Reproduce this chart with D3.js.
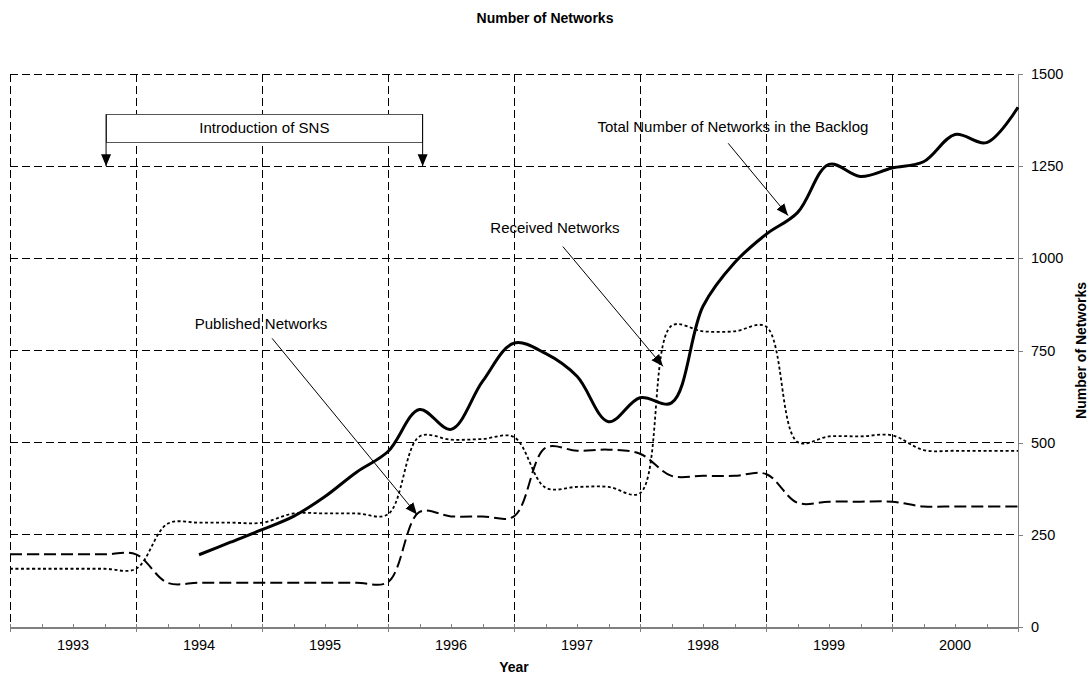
<!DOCTYPE html>
<html>
<head>
<meta charset="utf-8">
<script src="https://cdn.jsdelivr.net/npm/d3@7"></script>
<style>
	body { margin: 0; background: #fff; }
	svg { font-family: "Liberation Sans", Arial, sans-serif; }
	.grid line { stroke: #000; stroke-width: 1; stroke-dasharray: 8, 4; shape-rendering: crispEdges; }
	.axis path, .axis line { stroke: #808080; shape-rendering: crispEdges; }
	.axis text { font-size: 14.5px; fill: #000; }
	.note { font-size: 15px; fill: #000; }
	.title { font-size: 14px; font-weight: bold; }
</style>
</head>
<body>
<svg width="1090" height="675"></svg>
<script>
// quarterly categories, 1993 Q1 .. 2001 Q1
const quarters = [
	"1993 Q1", "1993 Q2", "1993 Q3", "1993 Q4",
	"1994 Q1", "1994 Q2", "1994 Q3", "1994 Q4",
	"1995 Q1", "1995 Q2", "1995 Q3", "1995 Q4",
	"1996 Q1", "1996 Q2", "1996 Q3", "1996 Q4",
	"1997 Q1", "1997 Q2", "1997 Q3", "1997 Q4",
	"1998 Q1", "1998 Q2", "1998 Q3", "1998 Q4",
	"1999 Q1", "1999 Q2", "1999 Q3", "1999 Q4",
	"2000 Q1", "2000 Q2", "2000 Q3", "2000 Q4",
	"2001 Q1"
]
const years = ["1993", "1994", "1995", "1996", "1997", "1998", "1999", "2000"]

const published = [197, 197, 197, 197, 197, 120, 120, 120, 120, 120, 120, 120, 122, 312, 300, 300, 300,
	486, 478, 481, 470, 410, 410, 410, 415, 337, 340, 340, 340, 327, 327, 327, 327]
const received = [158, 158, 158, 158, 158, 280, 283, 283, 283, 308, 308, 308, 306, 517, 508, 510, 515,
	378, 380, 380, 363, 817, 802, 802, 815, 502, 517, 517, 520, 480, 478, 478, 478]
const backlog = [null, null, null, null, null, null, 196, 230, 264, 300, 354, 420, 476, 590, 536, 666, 770,
	742, 680, 557, 622, 608, 870, 988, 1065, 1124, 1255, 1222, 1245, 1262, 1336, 1314, 1410]

const yTicks = [0, 250, 500, 750, 1000, 1250, 1500]

// callouts, placed in (quarter index, value) units
const notes = [
	{ text: "Total Number of Networks in the Backlog", at: [22.95, 1358], from: [22.8, 1312], to: [24.7, 1116] },
	{ text: "Received Networks", at: [17.3, 1084], from: [17.55, 1032], to: [20.73, 707] },
	{ text: "Published Networks", at: [7.97, 823], from: [8.32, 783], to: [12.92, 305] }
]
const sns = { text: "Introduction of SNS", start: 3.05, end: 13.1, top: 1391, bottom: 1315, tip: 1250 }

const svg = d3.select("svg")

const x = d3.scaleLinear().domain([0, quarters.length - 1]).range([10, 1018])
const y = d3.scaleLinear().domain([0, 1500]).range([627, 74])
const yearBand = d3.scaleBand().domain(years).range([10, 1018])

svg.append("defs")
	.append("marker")
	.attr("id", "head")
	.attr("viewBox", "0 -6 12 12")
	.attr("refX", 12)
	.attr("refY", 0)
	.attr("markerUnits", "userSpaceOnUse")
	.attr("markerWidth", 12)
	.attr("markerHeight", 12)
	.attr("orient", "auto")
	.append("path")
	.attr("d", "M0,-5L12,0L0,5Z")
	.attr("fill", "#000")

// dashed grid
const grid = svg.append("g").attr("class", "grid")
grid.selectAll("line.h")
	.data(yTicks.slice(1))
	.enter()
	.append("line")
	.attr("class", "h")
	.attr("x1", x(0))
	.attr("x2", x(quarters.length - 1))
	.attr("y1", d => y(d))
	.attr("y2", d => y(d))
grid.selectAll("line.v")
	.data(years)
	.enter()
	.append("line")
	.attr("class", "v")
	.attr("x1", d => yearBand(d))
	.attr("x2", d => yearBand(d))
	.attr("y1", y(1500))
	.attr("y2", y(0))

// axes
svg.append("g")
	.attr("class", "axis")
	.attr("transform", `translate(${x(quarters.length - 1)},0)`)
	.call(d3.axisRight(y).tickValues(yTicks).tickFormat(d3.format("d")).tickSizeInner(5).tickSizeOuter(0).tickPadding(8))

svg.append("g")
	.attr("class", "axis")
	.attr("transform", `translate(0,${y(0)})`)
	.call(d3.axisBottom(x).tickValues(d3.range(0, quarters.length)).tickSizeInner(-3).tickSizeOuter(0).tickFormat(""))
	.call(g => g.select(".domain").attr("stroke-width", 2))

svg.append("g")
	.attr("class", "axis")
	.attr("transform", `translate(0,${y(0)})`)
	.call(d3.axisBottom(x).tickValues(d3.range(0, quarters.length, 4)).tickSizeInner(5).tickSizeOuter(0).tickFormat(""))
	.call(g => g.select(".domain").remove())
	.call(g => g.selectAll(".tick line").attr("y1", -3))

svg.append("g")
	.attr("class", "axis")
	.attr("transform", `translate(0,${y(0)})`)
	.call(d3.axisBottom(yearBand).tickSize(0).tickPadding(13))
	.call(g => g.select(".domain").remove())

// series
const line = d3.line()
	.defined(d => d != null)
	.x((d, i) => x(i))
	.y(d => y(d))
	.curve(d3.curveCatmullRom)

svg.append("path")
	.datum(published)
	.attr("d", line)
	.attr("fill", "none")
	.attr("stroke", "#000")
	.attr("stroke-width", 2)
	.attr("stroke-dasharray", "12,5")

svg.append("path")
	.datum(received)
	.attr("d", line)
	.attr("fill", "none")
	.attr("stroke", "#000")
	.attr("stroke-width", 1.8)
	.attr("stroke-dasharray", "3,2.5")

svg.append("path")
	.datum(backlog)
	.attr("d", line)
	.attr("fill", "none")
	.attr("stroke", "#000")
	.attr("stroke-width", 3)

// SNS bracket
svg.append("rect")
	.attr("x", x(sns.start))
	.attr("y", y(sns.top))
	.attr("width", x(sns.end) - x(sns.start))
	.attr("height", y(sns.bottom) - y(sns.top))
	.attr("fill", "#fff")
	.attr("stroke", "#555")
	.attr("shape-rendering", "crispEdges")
svg.selectAll("line.sns")
	.data([sns.start, sns.end])
	.enter()
	.append("line")
	.attr("class", "sns")
	.attr("x1", d => x(d))
	.attr("x2", d => x(d))
	.attr("y1", y(sns.top))
	.attr("y2", y(sns.tip))
	.attr("stroke", "#000")
	.attr("marker-end", "url(#head)")
svg.append("text")
	.attr("class", "note")
	.attr("x", (x(sns.start) + x(sns.end)) / 2)
	.attr("y", (y(sns.top) + y(sns.bottom)) / 2)
	.attr("dy", "0.35em")
	.attr("text-anchor", "middle")
	.text(sns.text)

// callouts
const callouts = svg.selectAll("g.callout")
	.data(notes)
	.enter()
	.append("g")
	.attr("class", "callout")
callouts.append("line")
	.attr("x1", d => x(d.from[0]))
	.attr("y1", d => y(d.from[1]))
	.attr("x2", d => x(d.to[0]))
	.attr("y2", d => y(d.to[1]))
	.attr("stroke", "#000")
	.attr("marker-end", "url(#head)")
callouts.append("text")
	.attr("class", "note")
	.attr("x", d => x(d.at[0]))
	.attr("y", d => y(d.at[1]))
	.attr("dy", "0.35em")
	.attr("text-anchor", "middle")
	.text(d => d.text)

// titles
svg.append("text")
	.attr("class", "title")
	.attr("x", 545)
	.attr("y", 23)
	.attr("text-anchor", "middle")
	.text("Number of Networks")
svg.append("text")
	.attr("class", "title")
	.attr("x", (x(0) + x(quarters.length - 1)) / 2)
	.attr("y", 672)
	.attr("text-anchor", "middle")
	.text("Year")
svg.append("text")
	.attr("class", "title")
	.attr("transform", `translate(1086,${(y(0) + y(1500)) / 2}) rotate(-90)`)
	.attr("text-anchor", "middle")
	.text("Number of Networks")
</script>
</body>
</html>
